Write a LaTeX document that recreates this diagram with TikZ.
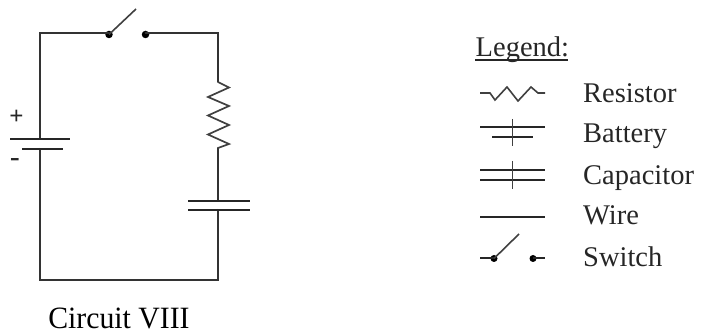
\documentclass[tikz,border=0pt]{standalone}
\usepackage{fontspec}
\setmainfont{Liberation Serif}
\newfontfamily\capfont{TeX Gyre Heros}
\newfontfamily\titlefont[FakeStretch=0.96]{Liberation Serif}
\tikzset{
  wire/.style={line width=2pt,draw=black!80,line cap=round,line join=miter},
  thin wire/.style={line width=1.8pt,draw=black!85},
  arm/.style={line width=1.6pt,draw=black!75},
  dot/.style={circle,fill=black,inner sep=0pt,minimum size=7.5pt},
  legend text/.style={anchor=base west,inner sep=0pt,font=\fontsize{28.5}{29}\selectfont,text=black!85},
  sign/.style={inner sep=0pt,font=\capfont\fontsize{26}{26}\selectfont,text=black!85},
}
\begin{document}
\begin{tikzpicture}[x=1pt,y=-1pt]
\useasboundingbox (0,0) rectangle (701,336);
% switch
\node[dot] (s1) at (109,34.5) {};
\node[dot] (s2) at (145.5,34.5) {};
\coordinate (armend) at (136,9);
\draw[arm] (s1.center) -- (armend);
% circuit
\coordinate (tl) at (40,33.5);
\coordinate (tr) at (218,33.5);
\coordinate (bl) at (40,280);
\coordinate (br) at (218,280);
\coordinate (b1) at (40,139);
\coordinate (b2) at (40,149);
\coordinate (c1) at (218,201);
\coordinate (c2) at (218,210);
\coordinate (r1) at (218,82);
\coordinate (r2) at (218,148);
\draw[wire] (s1.center |- tl) -- (tl) -- (b1);
\draw[wire] (b2) -- (bl) -- (br) -- (c2);
\draw[wire] (c1) -- (r2);
\draw[wire] (r1) -- (tr) -- (s2.center |- tr);
\draw[arm,line width=1.7pt] (r1) -- (229,87.5) -- (208,97) -- (229,106) -- (208,115.5) -- (229,125) -- (208,134.5) -- (229,144) -- (r2);
\draw[thin wire] (10,139) -- (70,139);
\draw[thin wire] (22,149) -- (63,149);
\draw[thin wire] (188,201) -- (250,201);
\draw[thin wire] (188,210) -- (250,210);
\node[sign] (plus) at (16.5,116) {+};
\node[sign,font=\capfont\fontsize{32}{32}\selectfont] (minus) at (15,163.5) {-};
\node[inner sep=0pt,anchor=base,font=\titlefont\fontsize{31}{31}\selectfont] (title) at (119,329) {Circuit VIII};
% legend
\node[legend text] (lh) at (475.5,56.5) {Legend:};
\draw[line width=1.3pt,draw=black!85] (475,60) -- (568,60);
\node[legend text] (l1) at (583,103) {Resistor};
\node[legend text] (l2) at (583,143) {Battery};
\node[legend text] (l3) at (583,185) {Capacitor};
\node[legend text] (l4) at (583,225) {Wire};
\node[legend text] (l5) at (583,266.5) {Switch};
\draw[arm] (480,93) -- (490,93) -- (495,100) -- (507,87) -- (518,101) -- (531,87) -- (538,93) -- (545,93);
\draw[thin wire] (480,127) -- (545,127);
\draw[thin wire] (492,137) -- (533,137);
\draw[arm] (512.5,119) -- (512.5,146);
\draw[thin wire] (480,170) -- (545,170);
\draw[thin wire] (480,180) -- (545,180);
\draw[arm] (512.5,161) -- (512.5,189);
\draw[thin wire] (480,217) -- (545,217);
\node[dot,minimum size=7pt] (k1) at (494,258.5) {};
\node[dot,minimum size=7pt] (k2) at (533,258.5) {};
\coordinate (k0) at (480,258);
\coordinate (k3) at (545,258);
\coordinate (karm) at (519,234);
\draw[thin wire] (k0) -- (k0 -| k1.center);
\draw[thin wire] (k0 -| k2.center) -- (k3);
\draw[arm] (k1.center) -- (karm);
\end{tikzpicture}
\end{document}
